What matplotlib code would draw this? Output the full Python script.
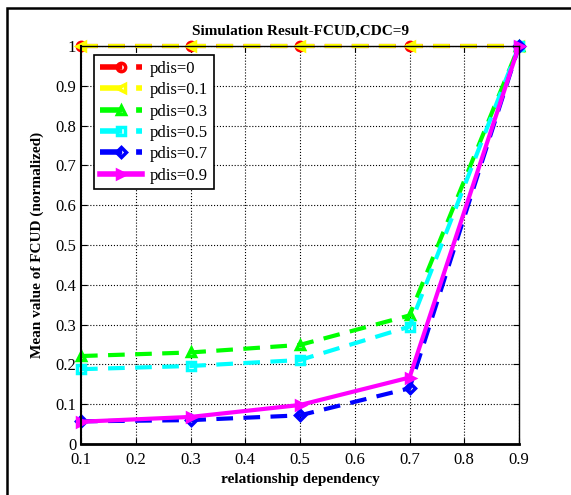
import numpy as np
import matplotlib
matplotlib.use("Agg")
import matplotlib.pyplot as plt
from matplotlib.patches import Rectangle

# data
x = [0.1, 0.3, 0.5, 0.7, 0.9]
pdis_0 = [1.0, 1.0, 1.0, 1.0, 1.0]
pdis_01 = [1.0, 1.0, 1.0, 1.0, 1.0]
pdis_03 = [0.221, 0.230, 0.249, 0.323, 1.0]
pdis_05 = [0.188, 0.196, 0.211, 0.295, 1.0]
pdis_07 = [0.057, 0.060, 0.072, 0.140, 1.0]
pdis_09 = [0.056, 0.068, 0.098, 0.167, 1.0]
labels = ["pdis=0", "pdis=0.1", "pdis=0.3", "pdis=0.5", "pdis=0.7", "pdis=0.9"]

plt.rcParams['font.family'] = ['Liberation Serif', 'DejaVu Serif']

fig = plt.figure(figsize=(5.71, 4.95), dpi=100)
ax = fig.add_axes([81 / 571, 1 - 444 / 495, 438 / 571, 398 / 495])

# outer frame like the exported figure
fig.patches.append(Rectangle((7 / 571, -0.1), 1.2, 1 - 8 / 495 + 0.1,
                             transform=fig.transFigure, fill=False,
                             edgecolor='black', linewidth=1.8))

styles = [
    (pdis_0, 'red', '--', 'o'),
    (pdis_01, 'yellow', '--', '<'),
    (pdis_03, '#00ff00', '--', '^'),
    (pdis_05, 'cyan', '--', 's'),
    (pdis_07, 'blue', '--', 'D'),
    (pdis_09, 'magenta', '-', '>'),
]
for (y, c, ls, m), lab in zip(styles, labels):
    ax.plot(x, y, color=c, linestyle=ls, linewidth=3, marker=m,
            markersize=6 if m != 'D' else 5, markerfacecolor='none',
            markeredgecolor=c, markeredgewidth=2.5, label=lab,
            dashes=(4, 2.5) if ls == '--' else (None, None), clip_on=False)

ax.set_xlim(0.1, 0.9)
ax.set_ylim(0, 1)
ax.set_xticks(np.arange(0.1, 0.91, 0.1))
ax.set_xticklabels(["0.1", "0.2", "0.3", "0.4", "0.5", "0.6", "0.7", "0.8", "0.9"])
ax.set_yticks(np.arange(0, 1.01, 0.1))
ax.set_yticklabels(["0", "0.1", "0.2", "0.3", "0.4", "0.5", "0.6", "0.7", "0.8", "0.9", "1"])
ax.tick_params(direction='in', top=True, right=True, labelsize=12, length=4)
ax.tick_params(axis='x', pad=6)
ax.grid(True, color='black', linestyle=':', linewidth=0.8)
for s in ax.spines.values():
    s.set_linewidth(1.0)
ax.spines['bottom'].set_linewidth(2)
ax.spines['left'].set_linewidth(1.5)

ax.set_title("Simulation Result-FCUD,CDC=9", fontsize=11, fontweight='bold', pad=8)
ax.set_xlabel("relationship dependency", fontsize=11, fontweight='bold', labelpad=3)
ax.set_ylabel("Mean value of FCUD (normalized)", fontsize=11, fontweight='bold', labelpad=8)

leg = ax.legend(loc='upper left', bbox_to_anchor=(0.03, 0.977), borderaxespad=0,
                fontsize=12, frameon=True, fancybox=False, edgecolor='black',
                framealpha=1, handlelength=2.5, borderpad=0.35, labelspacing=0.32,
                handletextpad=0.5)
leg.get_frame().set_linewidth(1.2)
for h in leg.get_lines():
    h.set_linewidth(4)

fig.savefig("out.png", dpi=100)
